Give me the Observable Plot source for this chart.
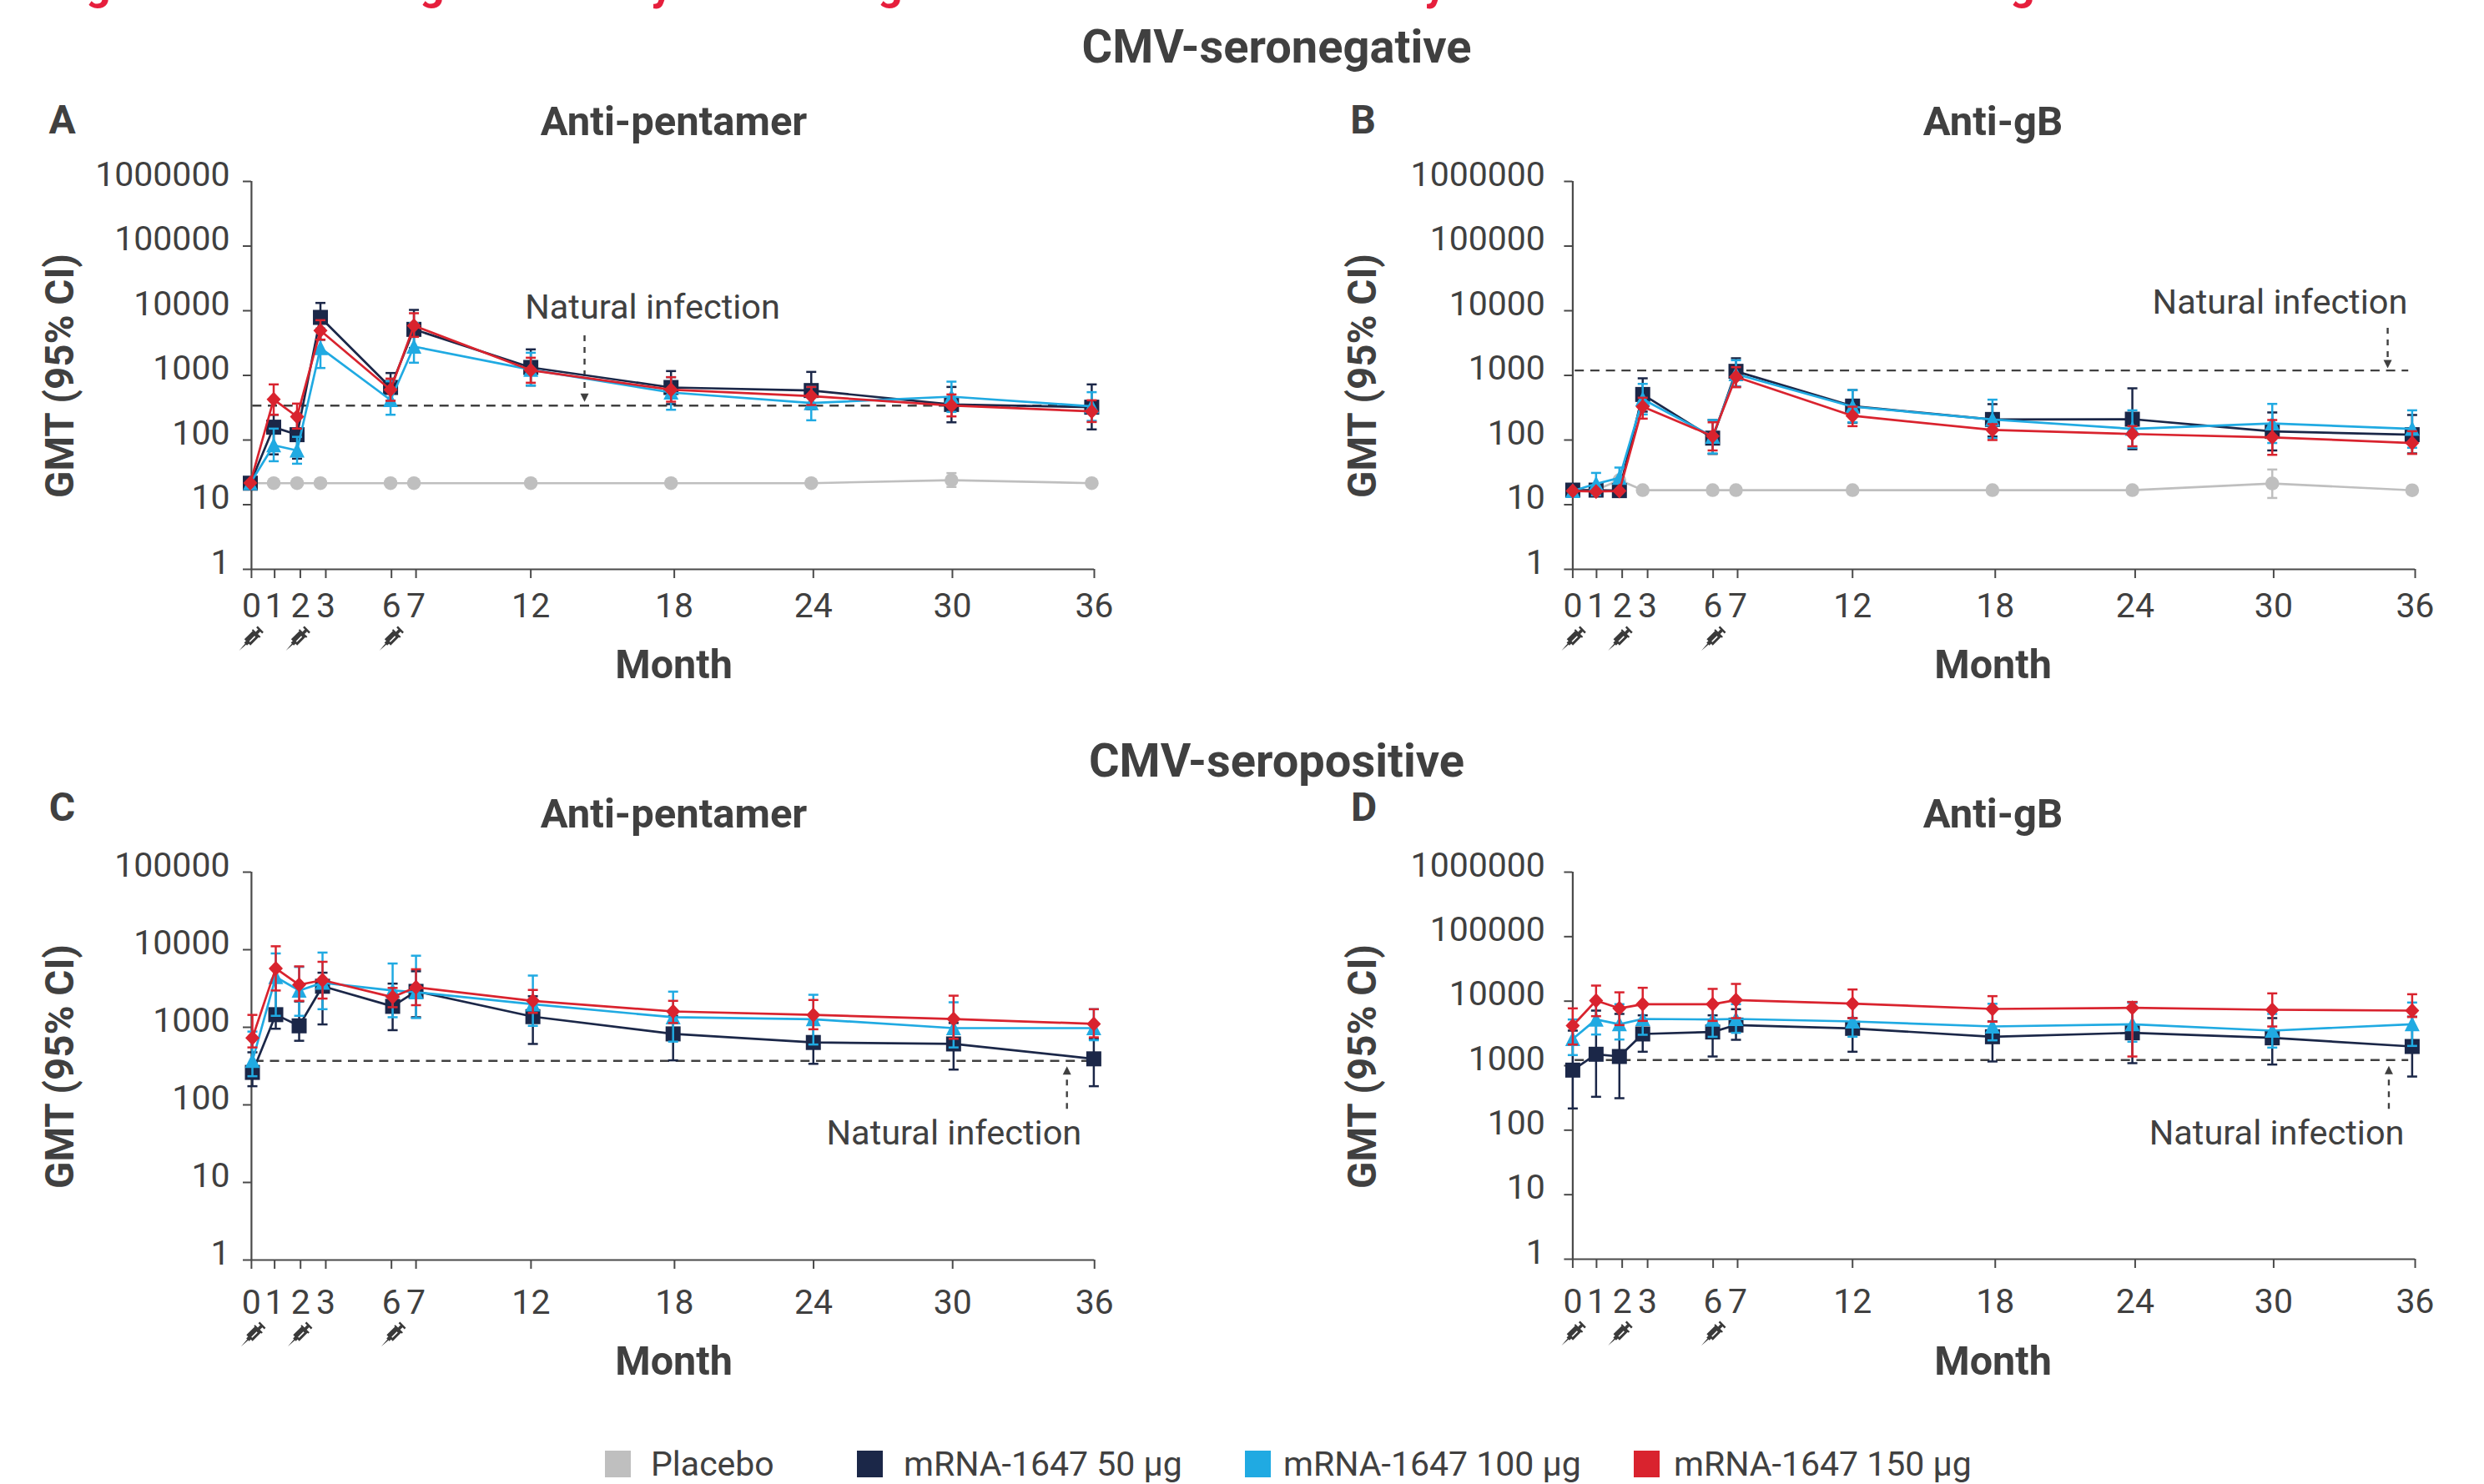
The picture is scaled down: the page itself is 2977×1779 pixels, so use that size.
<!DOCTYPE html>
<html>
<head>
<meta charset="utf-8">
<script src="https://cdn.jsdelivr.net/npm/d3@7"></script>
<script src="https://cdn.jsdelivr.net/npm/@observablehq/plot@0.6"></script>
<style>
html,body{margin:0;padding:0;background:#fff;overflow:hidden;}
body{width:2977px;height:1779px;position:relative;font-family:Roboto,sans-serif;color:#404040;}
.h{position:absolute;transform:translate(-50%,-50%);font-weight:700;font-size:56px;white-space:nowrap;}
.red{position:absolute;font-weight:700;font-size:52px;line-height:60px;color:#e61e3c;top:-48px;}
.sw{position:absolute;top:1739px;width:31px;height:32px;}
.lg{position:absolute;top:1755px;transform:translateY(-50%);font-size:41px;white-space:nowrap;}
</style>
</head>
<body>
<script>
const months = [0,1,2,3,6,7,12,18,24,30,36];
const yTicksSix = [1,10,100,1000,10000,100000,1000000];
const yTicksFive = [1,10,100,1000,10000,100000];
const tickMonthsA = [0.05,1.04,2.14,3.23,6.04,7.09,12,18.14,24.09,30.04,36.11];
const tickMonthsB = [0,1.02,2.12,3.21,6.02,7.07,12,18.12,24.12,30.06,36.13];
const tickMonthsC = [-0.04,0.95,2.06,3.14,5.95,7,11.92,18.06,24.01,29.96,36.03];
const vaccineMonths = [0,2,6];

const colorPlacebo = "#bfbfbf", color50 = "#1b2748", color100 = "#20aae2", color150 = "#d9232e";

// Panel A
const A_placebo = [21.5,21.5,21.5,21.5,21.5,21.5,21.5,21.5,21.5,24,21.5];
const A_placebo_hi = [null,null,null,null,null,null,null,null,null,30.8,null];
const A_placebo_lo = [null,null,null,null,null,null,null,null,null,18.8,null];
const A_50 = [21.5,158,121,7890,650,5150,1327,650,583,355,322];
const A_50_hi = [null,246,246,13200,1088,10300,2525,1166,1132,662,725];
const A_50_lo = [null,60,51.5,3560,404,2650,697,359,300,188,146];
const A_100 = [21.5,83,69,2650,416,2790,1225,544,373,469,332];
const A_100_hi = [null,150,112,5300,809,6460,2240,938,662,800,550];
const A_100_lo = [null,47,43,1300,246,1570,697,294,202,272,198];
const A_150 = [21.6,425,230,4950,600,5860,1200,600,478,341,277];
const A_150_hi = [null,725,366,7140,892,9150,1875,938,662,507,412];
const A_150_lo = [null,246,150,3570,404,3940,769,392,348,232,190];

// Panel B
const B_placebo = [16.8,16.8,24,16.8,16.8,16.8,16.8,16.8,16.8,21.3,16.7];
const B_placebo_hi = [null,null,null,null,null,null,null,null,null,35,null];
const B_placebo_lo = [null,null,null,null,null,null,null,null,null,12.7,null];
const B_50 = [16.8,16.8,16.5,507,107,1155,335,208,210,136,121];
const B_50_hi = [null,null,null,901,204,1840,594,359,631,267,244];
const B_50_lo = [null,null,null,275,61,670,185,113,72,69,62];
const B_100 = [16.3,21,26,429,113,1045,328,208,149,181,149];
const B_100_hi = [null,31,37.5,739,204,1716,594,421,288,362,288];
const B_100_lo = [null,14,17,249,62,670,188,107,76,90,76];
const B_150 = [16.3,16,16.3,328,115,947,237,143,124,110,90];
const B_150_hi = [null,null,null,451,188,1340,328,176,164,204,137];
const B_150_lo = [null,null,null,214,69,656,164,100,80,59,61];

// Panel C
const C_50 = [262,1455,1044,3380,1862,2904,1371,822,637,610,392];
const C_50_hi = [476,4083,2154,5053,3656,5275,2512,1406,1186,1136,711];
const C_50_lo = [174,958,670,1089,918,1348,610,375,338,285,174];
const C_100 = [369,4449,2979,3750,2979,2831,1979,1348,1270,975,975];
const C_100_hi = [880,8954,5995,9183,6640,8367,4642,2879,2624,2100,1711];
const C_100_lo = [234,1406,1406,1711,1348,1315,1044,653,600,550,681];
const C_150 = [729,5746,3533,4050,2448,3273,2192,1600,1444,1280,1107];
const C_150_hi = [1444,11074,6100,6985,3215,5600,3030,2192,2248,2555,1711];
const C_150_lo = [550,2979,2192,2345,1816,1928,1532,1136,943,711,742];

// Panel D
const D_50 = [853,1503,1387,3100,3326,4260,3783,2807,3228,2699,1983];
const D_50_hi = [3493,7135,6340,6030,6030,7500,5460,4845,9706,5460,5740];
const D_50_lo = [217,329,313,1643,1387,2517,1643,1161,1094,1041,678];
const D_100 = [2594,5197,4388,5297,5197,5297,4845,4052,4388,3493,4388];
const D_100_hi = [5197,9900,8970,9000,8970,8970,8970,9100,9400,6340,9516];
const D_100_lo = [1459,3040,2543,3010,2800,3228,2807,2468,2350,1906,2024];
const D_150 = [4177,10200,7727,8970,8970,10400,9150,7575,7880,7350,7135];
const D_150_hi = [7727,17430,13700,16110,15490,18500,15170,11960,9700,13200,12800];
const D_150_lo = [2127,5850,4260,4943,4943,5460,5460,4800,1387,4052,5683];

const legendLabels = ["Placebo","mRNA-1647 50 µg","mRNA-1647 100 µg","mRNA-1647 150 µg"];

// Custom marker shapes
const symSquare = {draw(c){c.rect(-9,-9,18,18);}};
const symCircle = {draw(c){c.moveTo(8.3,0);c.arc(0,0,8.3,0,2*Math.PI);}};
const symTriangle = {draw(c){c.moveTo(0,-9.5);c.lineTo(9,8.5);c.lineTo(-9,8.5);c.closePath();}};
const symDiamond = {draw(c){c.moveTo(0,-9);c.lineTo(8.5,0);c.lineTo(0,9);c.lineTo(-8.5,0);c.closePath();}};
const symCap = {draw(c){c.moveTo(-6,0);c.lineTo(6,0);}};
const symArrowDown = {draw(c){c.moveTo(-5,-6);c.lineTo(5,-6);c.lineTo(0,4);c.closePath();}};
const symArrowUp = {draw(c){c.moveTo(-5,6);c.lineTo(5,6);c.lineTo(0,-4);c.closePath();}};
const symSyringe = {draw(c){
  const P=(u,v)=>[(u+v)*Math.SQRT1_2,(-u+v)*Math.SQRT1_2];
  const poly=(pts)=>{pts.forEach((p,i)=>{const q=P(p[0],p[1]); i?c.lineTo(q[0],q[1]):c.moveTo(q[0],q[1]);});c.closePath();};
  poly([[-19,0],[-8,0.8],[-8,-0.8]]);
  poly([[-8,2.4],[-5,2.4],[-5,-2.4],[-8,-2.4]]);
  poly([[-5,5.2],[9,5.2],[9,-5.2],[-5,-5.2]]);
  poly([[-2.5,2.2],[-2.5,0.6],[6.5,0.6],[6.5,2.2]]);
  poly([[9,6.5],[11,6.5],[11,-6.5],[9,-6.5]]);
  poly([[11,1.8],[15,1.8],[15,-1.8],[11,-1.8]]);
  poly([[15,5],[17.5,5],[17.5,-5],[15,-5]]);
}};

function rows(v, hi, lo){ return months.map((m,i)=>({m, v:v[i], hi:hi[i], lo:lo[i]})); }

function seriesMarks(v, hi, lo, color, sym){
  const r = rows(v,hi,lo);
  const e = r.filter(d=>d.hi!=null);
  return [
    Plot.ruleX(e,{x:"m",y1:"lo",y2:"hi",stroke:color,strokeWidth:2.5}),
    Plot.dot(e,{x:"m",y:"hi",symbol:symCap,stroke:color,fill:"none",strokeWidth:2.5}),
    Plot.dot(e,{x:"m",y:"lo",symbol:symCap,stroke:color,fill:"none",strokeWidth:2.5}),
    Plot.line(r,{x:"m",y:"v",stroke:color,strokeWidth:2.7}),
    Plot.dot(r,{x:"m",y:"v",symbol:sym,fill:color,stroke:"none"})
  ];
}

const ink = "#404040", axisInk = "#4a4a4a";

function panel(cfg){
  const {left,top,width,height,axisX,axisEndX,x0,x36,yBottom,yTop,ticks,tickMonths,series,ref,arrow,note,title,letter,xTitleY,gmtCy,yPad,xPad,syringeDy} = cfg;
  const tx = (s,ax,ay,opt)=>Plot.text([s],{frameAnchor:"top-left",dx:ax-axisX,dy:ay-yTop,textAnchor:"middle",lineAnchor:"middle",fill:ink,fontFamily:"Roboto",...opt});
  const svg = Plot.plot({
    width,height,
    marginLeft:axisX-left,marginTop:yTop-top,marginRight:left+width-axisEndX,marginBottom:top+height-yBottom,
    style:{background:"transparent",overflow:"visible",fontFamily:"Roboto",color:axisInk},
    x:{domain:[0,36],range:[x0-left,x36-left]},
    y:{type:"log",domain:[1,ticks[ticks.length-1]],range:[yBottom-top,yTop-top]},
    marks:[
      Plot.ruleX([tickMonths[0]],{y1:1,y2:ticks[ticks.length-1],stroke:axisInk,strokeWidth:2.2}),
      Plot.ruleY([1],{x1:tickMonths[0],x2:tickMonths[tickMonths.length-1],stroke:axisInk,strokeWidth:2.2}),
      Plot.axisY({ticks,tickSize:10,tickFormat:()=>"",label:null,stroke:axisInk,strokeWidth:2}),
      Plot.axisY({ticks,tickSize:0,tickPadding:yPad,dy:-8,tickFormat:String,label:null,fontSize:41,fill:ink,stroke:"none"}),
      Plot.axisX({ticks:tickMonths,tickSize:11,tickFormat:()=>"",label:null,stroke:axisInk,strokeWidth:2}),
      Plot.axisX({ticks:tickMonths,tickSize:0,tickPadding:xPad,tickFormat:d=>String(Math.round(d)),label:null,fontSize:41,fill:ink,stroke:"none"}),
      Plot.dot(vaccineMonths,{x:d=>d,y:()=>1,dy:syringeDy,symbol:symSyringe,fill:"#3a3a3a",stroke:"none"}),
      Plot.ruleY([ref],{x1:0.1,x2:35.85,stroke:ink,strokeWidth:2.4,strokeDasharray:"11,7.7"}),
      Plot.ruleX([arrow.m],{y1:arrow.from,y2:arrow.to,stroke:ink,strokeWidth:2.4,strokeDasharray:"7,7"}),
      Plot.dot([arrow],{x:"m",y:"tip",symbol:arrow.up?symArrowUp:symArrowDown,fill:ink,stroke:"none"}),
      Plot.text([note.label],{x:()=>note.m,y:()=>note.y,textAnchor:"start",fontSize:41.5,fill:ink,fontFamily:"Roboto"}),
      ...series.flatMap(s=>seriesMarks(...s)),
      tx(title,cfg.centerX,cfg.titleY,{fontSize:49,fontWeight:700}),
      tx(letter,cfg.letterX,cfg.letterY,{fontSize:48,fontWeight:700}),
      tx("Month",cfg.centerX,xTitleY,{fontSize:48.5,fontWeight:700}),
      tx("GMT (95% CI)",cfg.gmtX,gmtCy,{fontSize:47.5,fontWeight:700,rotate:-90})
    ]
  });
  svg.style.position="absolute";
  svg.style.left=left+"px";
  svg.style.top=top+"px";
  document.body.appendChild(svg);
}

panel({left:0,top:100,width:1488,height:740,axisX:301,axisEndX:1311,x0:299.5,x36:1307.9,yBottom:682,yTop:217,ticks:yTicksSix,tickMonths:tickMonthsA,yPad:26,xPad:28,syringeDy:84,
  series:[[A_placebo,A_placebo_hi,A_placebo_lo,colorPlacebo,symCircle],[A_50,A_50_hi,A_50_lo,color50,symSquare],[A_100,A_100_hi,A_100_lo,color100,symTriangle],[A_150,A_150_hi,A_150_lo,color150,symDiamond]],
  ref:341,arrow:{m:14.3,from:4100,to:500,tip:440,up:false},note:{label:"Natural infection",m:11.75,y:11300},
  title:"Anti-pentamer",letter:"A",centerX:807,titleY:146,letterX:74,letterY:144,xTitleY:797,gmtX:72,gmtCy:450});

panel({left:1488,top:100,width:1489,height:740,axisX:1884.4,axisEndX:2894,x0:1884.4,x36:2890.4,yBottom:682,yTop:217,ticks:yTicksSix,tickMonths:tickMonthsB,yPad:33,xPad:28,syringeDy:84,
  series:[[B_placebo,B_placebo_hi,B_placebo_lo,colorPlacebo,symCircle],[B_50,B_50_hi,B_50_lo,color50,symSquare],[B_100,B_100_hi,B_100_lo,color100,symTriangle],[B_150,B_150_hi,B_150_lo,color150,symDiamond]],
  ref:1189,arrow:{m:34.95,from:5358,to:1650,tip:1450,up:false},note:{label:"Natural infection",m:24.86,y:13300},
  title:"Anti-gB",letter:"B",centerX:2388,titleY:146,letterX:1633,letterY:144,xTitleY:797,gmtX:1633,gmtCy:450});

panel({left:0,top:930,width:1488,height:740,axisX:301,axisEndX:1311,x0:302,x36:1310.4,yBottom:1510,yTop:1045,ticks:yTicksFive,tickMonths:tickMonthsC,yPad:26,xPad:35,syringeDy:90,
  series:[[C_50,C_50_hi,C_50_lo,color50,symSquare],[C_100,C_100_hi,C_100_lo,color100,symTriangle],[C_150,C_150_hi,C_150_lo,color150,symDiamond]],
  ref:369,arrow:{m:34.85,from:88,to:270,tip:285,up:true},note:{label:"Natural infection",m:24.56,y:43},
  title:"Anti-pentamer",letter:"C",centerX:807,titleY:976,letterX:74,letterY:968,xTitleY:1632,gmtX:72,gmtCy:1278});

panel({left:1488,top:930,width:1489,height:740,axisX:1884.4,axisEndX:2894,x0:1884.4,x36:2890.4,yBottom:1509,yTop:1045,ticks:yTicksSix,tickMonths:tickMonthsB,yPad:33,xPad:35,syringeDy:90,
  series:[[D_50,D_50_hi,D_50_lo,color50,symSquare],[D_100,D_100_hi,D_100_lo,color100,symTriangle],[D_150,D_150_hi,D_150_lo,color150,symDiamond]],
  ref:1220,arrow:{m:35,from:211,to:800,tip:880,up:true},note:{label:"Natural infection",m:24.72,y:89},
  title:"Anti-gB",letter:"D",centerX:2388,titleY:976,letterX:1634,letterY:968,xTitleY:1632,gmtX:1633,gmtCy:1278});

function addDiv(cls,text,css){const d=document.createElement("div");d.className=cls;if(text)d.textContent=text;Object.assign(d.style,css);document.body.appendChild(d);}
addDiv("h","CMV-seronegative",{left:"1530px",top:"56px"});
addDiv("h","CMV-seropositive",{left:"1530px",top:"912px"});
[["g",103],["g",503],["y",780],["g",1052],["y",1707],["g",2409]].forEach(([t,x])=>addDiv("red",t,{left:x+"px"}));
[[724.6,1],[1026.6,2],[1491.6,3],[1957.7,4]].forEach(([x,i])=>addDiv("sw","",{left:x+"px",background:[colorPlacebo,color50,color100,color150][i-1]}));
[780,1083,1538,2006].forEach((x,i)=>addDiv("lg",legendLabels[i],{left:x+"px"}));
</script>
</body>
</html>
